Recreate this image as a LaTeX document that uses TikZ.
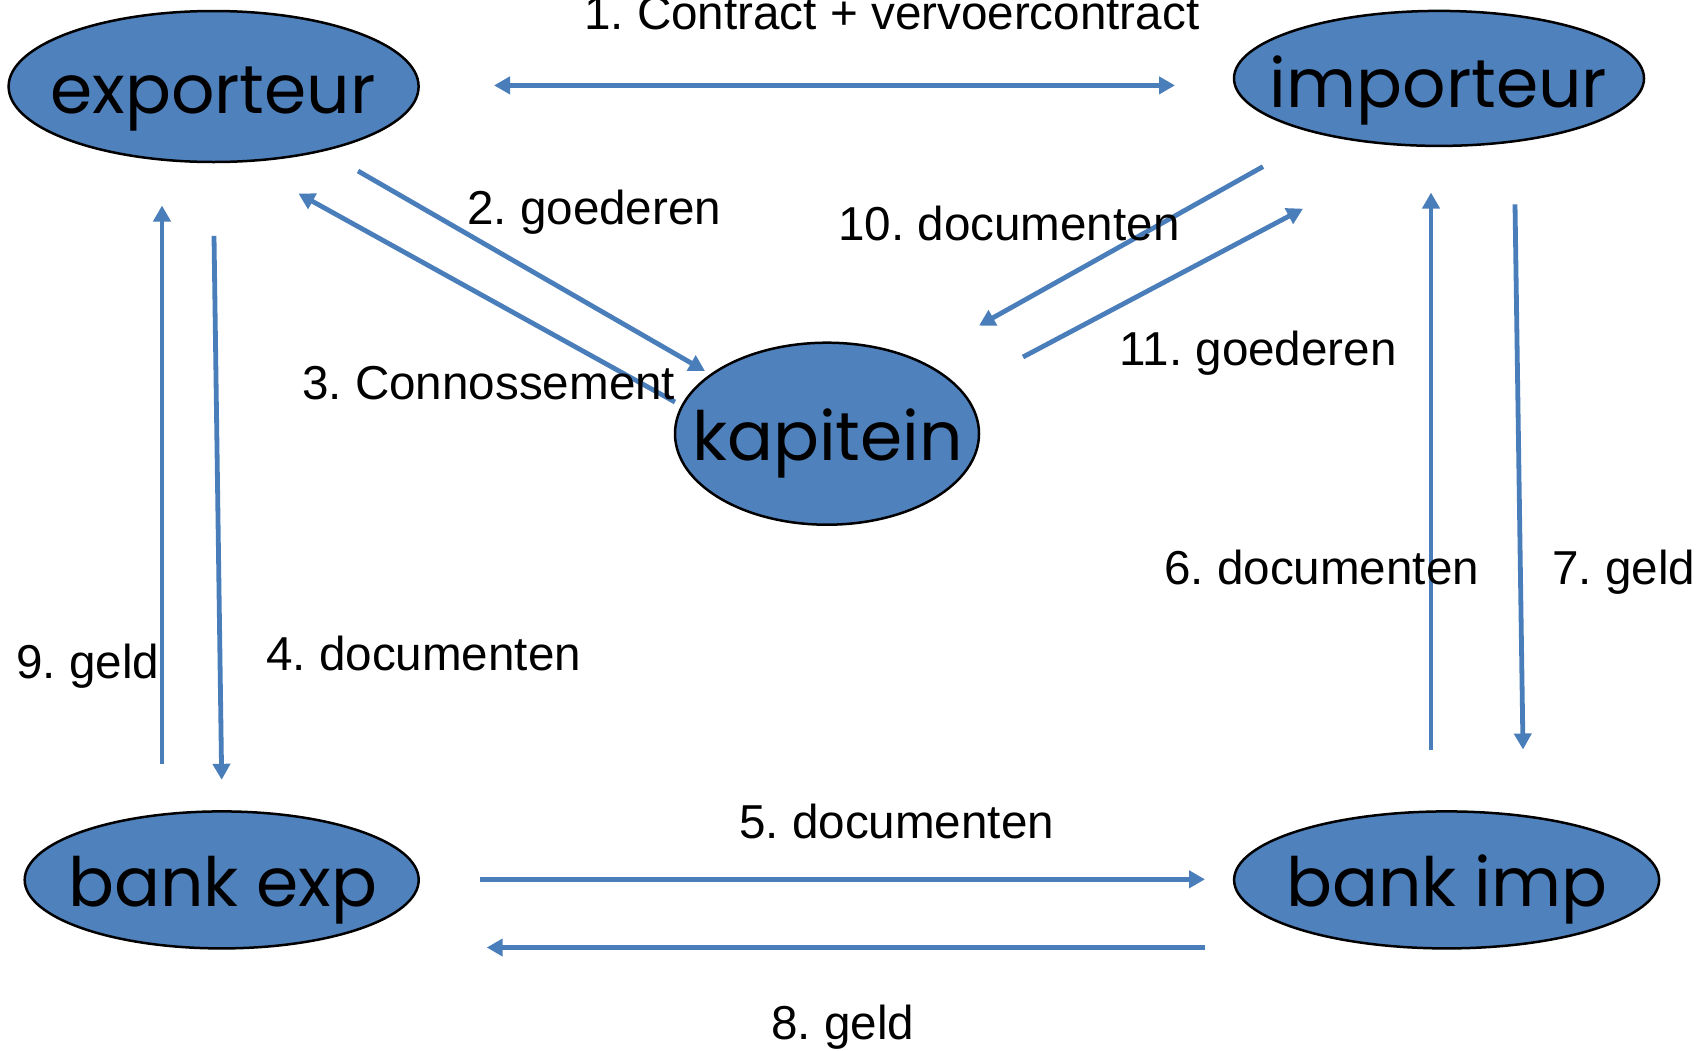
\documentclass[tikz,border=0pt]{standalone}
\usepackage{fontspec}
\setmainfont{Liberation Sans}
\newfontfamily\ellfont{Poppins}
\usetikzlibrary{arrows.meta,shapes.geometric}
\definecolor{arrowblue}{RGB}{74,126,187}
\definecolor{fillblue}{RGB}{79,129,189}
\frenchspacing
\begin{document}
\begin{tikzpicture}[x=1pt,y=-1pt,
  party/.style={ellipse, draw=black, line width=2.5pt, fill=fillblue, inner sep=0pt},
  partytext/.style={font=\ellfont\fontsize{68}{68}\selectfont, inner sep=0pt, anchor=base},
  lbl/.style={font=\fontsize{47.6}{50}\selectfont, inner sep=0pt, anchor=base west},
  flow/.style={draw=arrowblue, line width=4.8pt, -{Triangle[length=16pt,width=17pt]}},
  flowboth/.style={draw=arrowblue, line width=4.8pt, {Triangle[length=16pt,width=17pt]}-{Triangle[length=16pt,width=17pt]}},
]
\fill[white] (0,0) rectangle (1696,1050);
\useasboundingbox (0,0) rectangle (1696,1050);

% parties
\node[party, minimum width=410pt, minimum height=151pt] (exp) at (213.6,86.5) {};
\node[partytext] (expt) at (213,113.6) {exporteur};
\node[party, minimum width=410pt, minimum height=135pt] (imp) at (1439,78.4) {};
\node[partytext] (impt) at (1438.6,107) {importeur};
\node[party, minimum width=304pt, minimum height=182pt] (kap) at (827,433.7) {};
\node[partytext] (kapt) at (827.5,460) {kapitein};
\node[party, minimum width=394pt, minimum height=137pt] (bexp) at (221.7,879.9) {};
\node[partytext] (bexpt) at (222.8,906) {bank exp};
\node[party, minimum width=425pt, minimum height=137pt] (bimp) at (1446.6,879.9) {};
\node[partytext] (bimpt) at (1447,906) {bank imp};

% connector end points
\coordinate (c1a) at (494,85.4);   \coordinate (c1b) at (1175,85.4);
\coordinate (c2a) at (358,171);    \coordinate (c2b) at (705,371);
\coordinate (c3a) at (675,402);    \coordinate (c3b) at (298.5,193.6);
\coordinate (c10a) at (1263,166.6);\coordinate (c10b) at (979,325.6);
\coordinate (c11a) at (1023,357);  \coordinate (c11b) at (1303,208.7);
\coordinate (c9a) at (162,763.6);  \coordinate (c9b) at (162,205.5);
\coordinate (c4a) at (214,235.8);  \coordinate (c4b) at (221.7,779.8);
\coordinate (c6a) at (1431,749.5); \coordinate (c6b) at (1431,192.5);
\coordinate (c7a) at (1515,204.4); \coordinate (c7b) at (1523,749.5);
\coordinate (c5a) at (480,879.3);  \coordinate (c5b) at (1205,879.3);
\coordinate (c8a) at (1205,947.5); \coordinate (c8b) at (486.7,947.5);

% connectors
\draw[flowboth] (c1a) -- (c1b);
\draw[flow] (c2a) -- (c2b);
\draw[flow] (c3a) -- (c3b);
\draw[flow] (c10a) -- (c10b);
\draw[flow] (c11a) -- (c11b);
\draw[flow] (c9a) -- (c9b);
\draw[flow] (c4a) -- (c4b);
\draw[flow] (c6a) -- (c6b);
\draw[flow] (c7a) -- (c7b);
\draw[flow] (c5a) -- (c5b);
\draw[flow] (c8a) -- (c8b);

% labels
\node[lbl] (l1) at (584,29) {1. Contract + vervoercontract};
\node[lbl] (l2) at (467,224) {2. goederen};
\node[lbl] (l10) at (838,240) {10. documenten};
\node[lbl] (l3) at (302,399) {3. Connossement};
\node[lbl] (l11) at (1119.5,365) {11. goederen};
\node[lbl] (l6) at (1164,584) {6. documenten};
\node[lbl] (l7) at (1552,584) {7. geld};
\node[lbl] (l9) at (16,678) {9. geld};
\node[lbl] (l4) at (266,670.6) {4. documenten};
\node[lbl] (l5) at (739,838) {5. documenten};
\node[lbl] (l8) at (771,1039) {8. geld};
\end{tikzpicture}
\end{document}
